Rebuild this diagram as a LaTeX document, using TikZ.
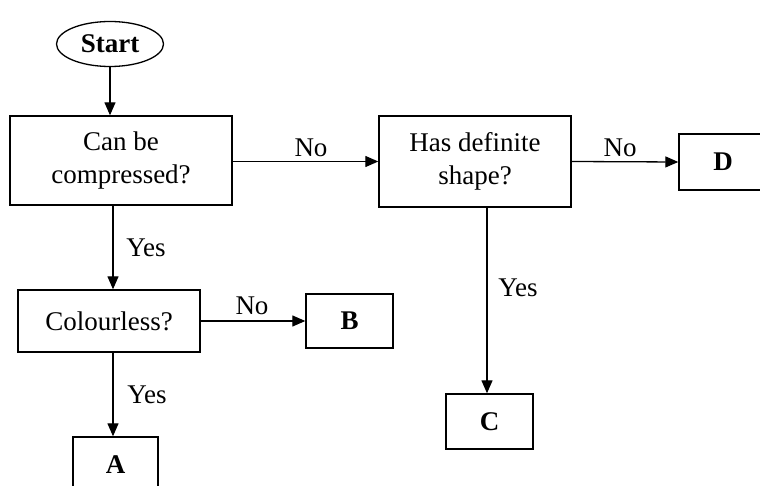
\documentclass[tikz,border=0pt]{standalone}
\usepackage{fontspec}
\setmainfont{Liberation Serif}
\usetikzlibrary{arrows.meta,shapes.geometric}
\begin{document}
\begin{tikzpicture}[x=1pt,y=-1pt,
  every node/.style={font=\fontsize{27}{33}\selectfont},
  box/.style={draw,line width=1.4pt,rectangle,align=center,inner sep=0pt},
  bbox/.style={box,font=\fontsize{27}{33}\selectfont\bfseries},
  term/.style={draw,line width=1.3pt,ellipse,inner sep=0pt,font=\fontsize{27}{33}\selectfont\bfseries},
  lbl/.style={inner sep=0pt},
  arr/.style={line width=1.3pt,-{Triangle[length=13pt,width=11pt]}}]
\useasboundingbox (0,0) rectangle (760,486);
\clip (0,0) rectangle (760,486);
\node[term,minimum width=107pt,minimum height=45pt] (start) at (110,44) {Start};
\node[box,minimum width=222pt,minimum height=89pt] (cbc) at (121,160.5) {Can be\\compressed?};
\node[box,minimum width=192pt,minimum height=91pt] (has) at (475,161.5) {Has definite\\shape?};
\node[bbox,minimum width=88pt,minimum height=56pt] (D) at (723,162) {D};
\node[box,minimum width=182pt,minimum height=62pt] (col) at (109,321) {Colourless?};
\node[bbox,minimum width=87pt,minimum height=54pt] (B) at (349.5,321) {B};
\node[bbox,minimum width=87pt,minimum height=55pt] (C) at (489.5,421.5) {C};
\node[bbox,minimum width=85pt,minimum height=56pt] (A) at (115.5,465) {A};
\coordinate (vx) at (113,0);
\coordinate (vc) at (487,0);
\draw[arr] (start.south) -- (start.south |- cbc.north);
\draw[arr] (has.west -| cbc.east) -- (has.west);
\draw[arr] (has.east) -- (D.west);
\draw[arr] (cbc.south -| vx) -- (col.north -| vx);
\draw[arr] (col.south -| vx) -- (A.north -| vx);
\draw[arr] (col.east) -- (B.west);
\draw[arr] (has.south -| vc) -- (C.north -| vc);
\node[lbl] (l1) at (311,148) {No};
\node[lbl] (l2) at (620,148) {No};
\node[lbl] (l3) at (146,248) {Yes};
\node[lbl] (l4) at (252,306) {No};
\node[lbl] (l5) at (147,395) {Yes};
\node[lbl] (l6) at (518,288) {Yes};
\end{tikzpicture}
\end{document}
